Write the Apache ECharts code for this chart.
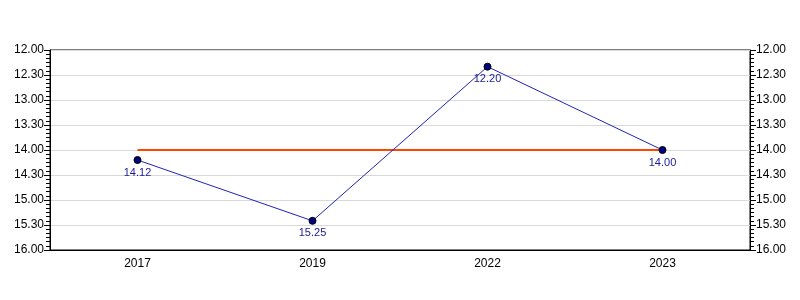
<!DOCTYPE html>
<html>
<head>
<meta charset="utf-8">
<script src="https://cdn.jsdelivr.net/npm/echarts@6/dist/echarts.min.js"></script>
<style>html,body{margin:0;padding:0;background:#fff}#c{width:800px;height:300px}</style>
</head>
<body>
<div id="c"></div>
<script>
var categories = ['2017', '2019', '2022', '2023'];
// clock times, written as H.MM
var clockValues = ['14.12', '15.25', '12.20', '14.00'];
var targetValues = ['14.00', '14.00', '14.00', '14.00'];

function toHours(s) {
  var p = s.split('.');
  return parseInt(p[0], 10) + parseInt(p[1], 10) / 60;
}
function fmt(v) {
  var h = Math.floor(v + 1e-9);
  var m = Math.round((v - h) * 60);
  if (m === 60) { h += 1; m = 0; }
  return h + '.' + (m < 10 ? '0' + m : m);
}

var axisCommon = {
  type: 'value', min: 12, max: 16, interval: 0.5, inverse: true,
  axisLine: { show: true, lineStyle: { color: '#000', width: 1 } },
  axisTick: { show: true, length: 6, lineStyle: { color: '#000' } },
  minorTick: { show: true, splitNumber: 6, length: 4, lineStyle: { color: '#000' } },
  axisLabel: { formatter: fmt, color: '#000', fontSize: 12, fontFamily: 'Liberation Sans, Arial, sans-serif', margin: 6 }
};

var chart = echarts.init(document.getElementById('c'), null, { renderer: 'canvas' });
chart.setOption({
  animation: false,
  backgroundColor: '#fff',
  grid: { left: 50, right: 50, top: 50, bottom: 50, show: true, borderColor: '#000', borderWidth: 1, containLabel: false },
  xAxis: {
    type: 'category', data: categories, boundaryGap: true,
    axisLine: { lineStyle: { color: '#000' } },
    axisTick: { alignWithLabel: true, length: 5, lineStyle: { color: '#000' } },
    axisLabel: { color: '#000', fontSize: 12, fontFamily: 'Liberation Sans, Arial, sans-serif', margin: 8 },
    splitLine: { show: false }
  },
  yAxis: [
    Object.assign({}, axisCommon, { position: 'left', splitLine: { show: true, lineStyle: { color: '#d9d9d9', width: 1 } } }),
    Object.assign({}, axisCommon, { position: 'right', splitLine: { show: false } })
  ],
  series: [
    {
      type: 'line', yAxisIndex: 0,
      data: targetValues.map(toHours),
      symbol: 'none',
      lineStyle: { color: '#ff4500', width: 2 },
      z: 1
    },
    {
      type: 'line', yAxisIndex: 0,
      data: clockValues.map(toHours),
      symbol: 'circle', symbolSize: 7,
      lineStyle: { color: '#2222bb', width: 1 },
      itemStyle: { color: '#000080', borderColor: '#000', borderWidth: 1 },
      label: { show: true, position: 'bottom', distance: 3, formatter: function (p) { return clockValues[p.dataIndex]; }, color: '#1a1a99', fontSize: 11, fontFamily: 'Liberation Sans, Arial, sans-serif' },
      z: 3
    }
  ]
});
</script>
</body>
</html>
